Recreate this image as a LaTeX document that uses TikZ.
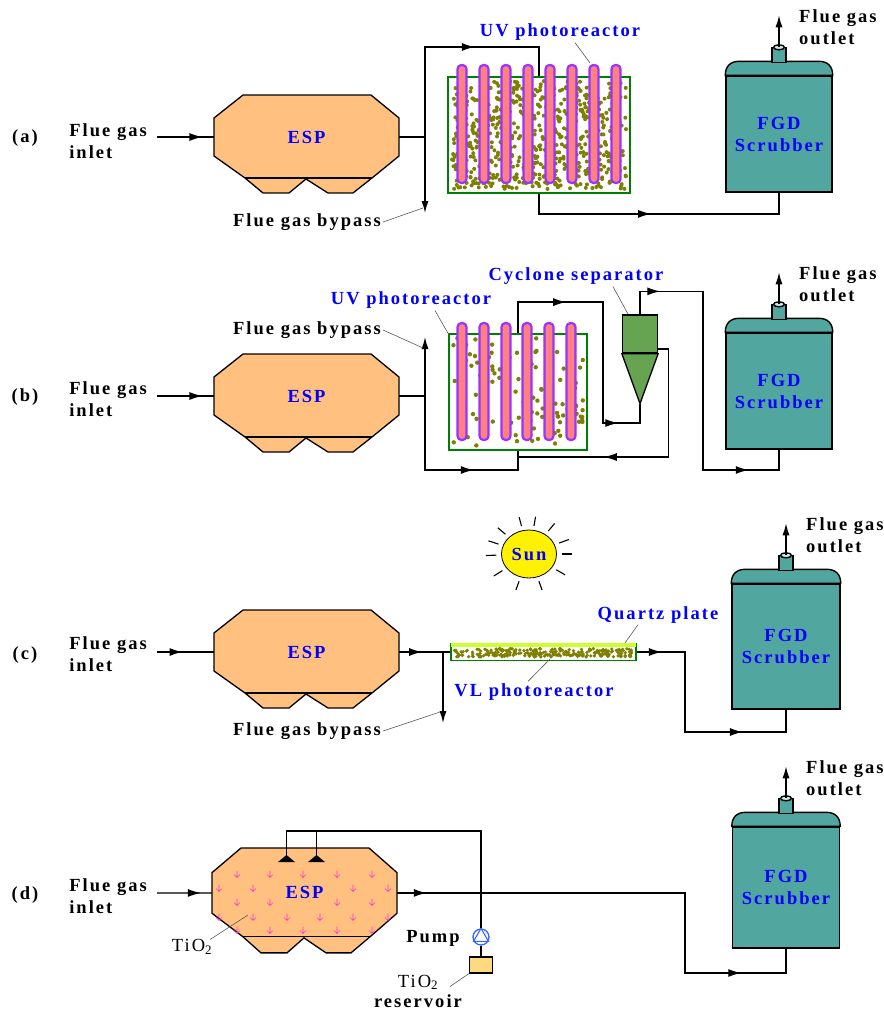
\documentclass[tikz,border=0pt]{standalone}
\usepackage{fontspec}
\setmainfont{Liberation Serif}
\newfontfamily\labelfont[LetterSpace=11]{Liberation Serif}
\usetikzlibrary{shapes.geometric, arrows.meta, positioning, calc, decorations.markings}

\definecolor{espfill}{RGB}{255,192,128}
\definecolor{scrfill}{RGB}{82,166,160}
\definecolor{scrtop}{RGB}{200,235,232}
\definecolor{cycfill}{RGB}{102,164,82}
\definecolor{tubeline}{RGB}{153,51,255}
\definecolor{tubefill}{RGB}{255,128,128}
\definecolor{bedline}{RGB}{0,128,0}
\definecolor{bedgrain}{RGB}{128,128,0}
\definecolor{quartz}{RGB}{204,255,51}
\definecolor{pumpblue}{RGB}{51,102,255}
\definecolor{resvfill}{RGB}{255,217,128}
\definecolor{spray}{RGB}{255,51,204}

% precipitator outline, #1 name, #2/#3 top left corner, #4 vertical scale
\newcommand{\esp}[4]{%
  \begin{scope}[shift={(#2,#3)}, yscale=#4]
    \filldraw[espbody] (29,0) -- (157,0) -- (185,23) -- (185,61) -- (158,83) -- (139,98)
      -- (114,98) -- (92,84) -- (75,98) -- (49,98) -- (31,83) -- (0,61) -- (0,23) -- cycle;
    \draw[espbody] (31,83) -- (158,83);
    \node[esptext] (#1) at (92.5,42) {ESP};
  \end{scope}}

% scrubber tower, #1 name, #2/#3 body centre, #4 width, #5 height
\newcommand{\scrubber}[5]{%
  \node[scrbody, minimum width=#4, minimum height=#5] (#1) at (#2,#3) {FGD\\Scrubber};
  \filldraw[scrshell] (#1.north west)
    .. controls ([yshift=9pt]#1.north west) and ([xshift=5pt,yshift=14pt]#1.north west) .. ([xshift=14pt,yshift=14pt]#1.north west)
    -- ([xshift=-14pt,yshift=14pt]#1.north east)
    .. controls ([xshift=-5pt,yshift=14pt]#1.north east) and ([yshift=9pt]#1.north east) .. (#1.north east) -- cycle;
  \filldraw[scrshell] ([xshift=-7pt,yshift=13pt]#1.north) rectangle ([xshift=7pt,yshift=28pt]#1.north);
  \filldraw[scrshell, fill=scrtop] ([yshift=28pt]#1.north) ellipse (5.5pt and 2.5pt);
  \coordinate (#1-out) at ([yshift=28pt]#1.north);
  \coordinate (#1-vent) at ([yshift=60pt]#1.north);
  \draw[outarrow] (#1-out) -- (#1-vent);
  \node[txt, anchor=west] at ([xshift=20pt,yshift=20pt]#1-out) {Flue gas\\outlet};}

\begin{document}
\begin{tikzpicture}[x=1pt, y=-1pt,
  txt/.style={font=\labelfont\bfseries\fontsize{18.5}{22}\selectfont, inner sep=0pt, align=left},
  plain/.style={font=\labelfont\fontsize{18.5}{22}\selectfont, inner sep=0pt},
  note/.style={txt, text=blue},
  pipe/.style={line width=1.3pt},
  lead/.style={line width=0.6pt, black!65},
  flow/.style={postaction={decorate}, decoration={markings,
      mark=at position #1 with {\arrow{Latex[length=13pt,width=8pt]}}}},
  flowtwo/.style 2 args={postaction={decorate}, decoration={markings,
      mark=at position #1 with {\arrow{Latex[length=13pt,width=8pt]}},
      mark=at position #2 with {\arrow{Latex[length=13pt,width=8pt]}}}},
  outarrow/.style={pipe, -{Latex[length=12pt,width=7pt]}},
  espbody/.style={draw=black, line width=1.3pt, fill=espfill},
  esptext/.style={txt, text=blue, minimum width=185pt},
  scrbody/.style={draw=black, line width=1.4pt, fill=scrfill, txt, align=center, text=blue},
  scrshell/.style={draw=black, line width=1.4pt, fill=scrfill},
  reactor/.style={draw=bedline, line width=1.8pt, fill=white, inner sep=0pt},
  tube/.style={draw=tubeline, line width=2.2pt, fill=tubefill, rounded corners=4pt},
  grain/.style={fill=bedgrain},
  cyclone/.style={draw=black, line width=1.3pt, fill=cycfill},
  ray/.style={line width=1.1pt},
  pumpc/.style={circle, draw=pumpblue, line width=1.3pt, fill=white, minimum size=16pt, inner sep=0pt},
  resv/.style={draw=black, line width=1.3pt, fill=resvfill, minimum width=23pt, minimum height=16pt, inner sep=0pt},
  sprayarrow/.style={draw=spray, line width=0.6pt}]

\useasboundingbox (0,0) rectangle (884,1010);
\pgfmathsetseed{41}

%% (a) UV photoreactor
\node[txt] at (25,138) {(a)};
\coordinate (inA) at (157,137);
\node[txt, left=10pt of inA, yshift=-4pt] {Flue gas\\inlet};
\esp{espA}{214}{95}{1}
\node[reactor, minimum width=182pt, minimum height=116pt] (reactA) at (539,135) {};
\foreach \i in {1,...,700}{
  \pgfmathsetmacro{\px}{452+174*rnd}
  \pgfmathsetmacro{\py}{81+108*rnd}
  \fill[grain] (\px,\py) circle (2pt);
}
\foreach \x in {462,484,506,528,550,572,594,616}
  \draw[tube] (\x-4.5,65) rectangle (\x+4.5,183);
\scrubber{scrA}{779}{134}{106pt}{116pt}
\coordinate (ja) at (425,137);
\coordinate (bypA) at (425,213);
\draw[pipe, flow=0.8] (inA) -- (espA.west);
\draw[pipe] (espA.east) -- (ja);
\draw[outarrow] (ja) -- (bypA);
\draw[pipe, flow=0.6] (ja) -- ++(0,-90) -| (reactA.north);
\draw[pipe, flow=0.47] (reactA.south) -- ++(0,20) -| (scrA.south);
\node[note] (uvA) at (560,32) {UV photoreactor};
\draw[lead] ([xshift=15pt,yshift=-2pt]uvA.south) -- (590,63);
\node[txt] (bypassA) at (307,222) {Flue gas bypass};
\draw[lead] ([xshift=2pt]bypassA.east) -- (423,208);

%% (b) UV photoreactor with cyclone
\node[txt] at (25,397) {(b)};
\coordinate (inB) at (157,396);
\node[txt, left=10pt of inB, yshift=-3pt] {Flue gas\\inlet};
\esp{espB}{214}{354}{1}
\node[reactor, minimum width=138pt, minimum height=116pt] (reactB) at (518,392) {};
\foreach \i in {1,...,120}{
  \pgfmathsetmacro{\px}{453+131*rnd}
  \pgfmathsetmacro{\py}{338+108*rnd}
  \fill[grain] (\px,\py) circle (2.2pt);
}
\foreach \x in {462,484,506,527,549,571}
  \draw[tube] (\x-4.5,323) rectangle (\x+4.5,440);
\node[cyclone, minimum width=35pt, minimum height=38pt, inner sep=0pt] (cycB) at (640,334) {};
\coordinate (cycTip) at ([yshift=-50pt]cycB.south);
\filldraw[cyclone] (cycB.south west) -- (cycB.south east) -- (cycTip) -- cycle;
\coordinate (cycSide) at ([yshift=-15pt]cycB.east);
\scrubber{scrB}{779}{391}{106pt}{116pt}
\coordinate (jb) at (425,396);
\coordinate (bypB) at (425,337);
\coordinate (bendB) at (603,423);
\coordinate (bendB2) at (703,470);
\draw[pipe, flow=0.8] (inB) -- (espB.west);
\draw[pipe] (espB.east) -- (jb);
\draw[outarrow] (jb) -- (bypB);
\draw[pipe, flow=0.66] (jb) -- ++(0,74) -| (reactB.south);
\draw[pipe, flowtwo={0.27}{0.86}] (reactB.north) -- ++(0,-31) -| (bendB) -| (cycTip);
\draw[pipe, flow=0.68] (cycSide) -- ++(10,0) -- ++(0,108) -- (reactB.south |- 0,457);
\draw[pipe, flowtwo={0.12}{0.86}] (cycB.north) -- ++(0,-23) -| (bendB2) -| (scrB.south);
\node[note] (uvB) at (411,300) {UV photoreactor};
\draw[lead] ([xshift=24pt,yshift=-2pt]uvB.south) -- (449,335);
\node[note] (cycLbl) at (576,276) {Cyclone separator};
\draw[lead] ([xshift=37pt,yshift=-2pt]cycLbl.south) -- (628,314);
\node[txt] (bypassB) at (307,330) {Flue gas bypass};
\draw[lead] ([xshift=2pt]bypassB.east) -- (423,348);

%% (c) visible light photoreactor
\node[txt] at (25,655) {(c)};
\coordinate (inC) at (157,652);
\node[txt, left=10pt of inC, yshift=-2pt] {Flue gas\\inlet};
\esp{espC}{214}{610}{1}
\node[ellipse, draw=black, line width=0.8pt, fill=yellow, minimum width=55pt, minimum height=48pt,
  inner sep=0pt, note] (sun) at (529,554) {Sun};
\foreach \a in {0,20,50,80,105,140,162,182,212,250,290,330}
  \draw[ray] ($(sun.center)!1.17!(sun.\a)$) -- ($(sun.center)!1.55!(sun.\a)$);
\node[reactor, line width=1.5pt, minimum width=185pt, minimum height=17pt] (plateC) at (543.5,652) {};
\draw[quartz, line width=3.5pt] ([xshift=1pt,yshift=-2pt]plateC.north west) -- ([xshift=-1pt,yshift=-2pt]plateC.north east);
\foreach \i in {1,...,260}{
  \pgfmathsetmacro{\px}{454+178*rnd}
  \pgfmathsetmacro{\py}{648.5+8.5*rnd}
  \fill[grain] (\px,\py) circle (1.8pt);
}
\scrubber{scrC}{786}{646.5}{108pt}{125pt}
\coordinate (jc) at (443,652);
\coordinate (bypC) at (443,723);
\coordinate (bendC) at (685,732);
\draw[pipe, flow=0.45] (inC) -- (espC.west);
\draw[pipe, flow=0.45] (espC.east) -- (plateC.west);
\draw[outarrow] (jc) -- (bypC);
\draw[pipe, flowtwo={0.1}{0.74}] (plateC.east) -| (bendC) -| (scrC.south);
\node[note] (quartzLbl) at (658,615) {Quartz plate};
\draw[lead] ([xshift=-20pt,yshift=-1pt]quartzLbl.south) -- (625,643);
\node[note] (vlLbl) at (534,692) {VL photoreactor};
\draw[lead] ([xshift=-6pt,yshift=2pt]vlLbl.north) -- (550,659);
\node[txt] (bypassC) at (307,731) {Flue gas bypass};
\draw[lead] ([xshift=2pt]bypassC.east) -- (440,712);

%% (d) TiO2 injection into the ESP
\node[txt] at (25,895) {(d)};
\coordinate (inD) at (157,893);
\node[txt, left=10pt of inD, yshift=-3pt] {Flue gas\\inlet};
\esp{espD}{212}{848}{1.07}
\foreach \p in {(237,874),(270,874),(303,874),(337,874),(372,874),
                (219,888),(253,888),(353,888),(388,888),
                (237,902),(270,902),(337,902),(372,902),
                (219,917),(253,917),(287,917),(320,917),(353,917),(388,917),
                (237,930),(270,930),(303,930),(337,930),(372,930)}
  \draw[sprayarrow] \p ++(0,-3.5) -- ++(0,7) ++(-3,-3) -- ++(3,3) -- ++(3,-3);
\coordinate (noz1) at (286.5,855);
\coordinate (noz2) at (316.5,855);
\fill (noz1) -- ++(8.5,7) -- ++(-17,0) -- cycle;
\fill (noz2) -- ++(8.5,7) -- ++(-17,0) -- cycle;
\node[pumpc] (pump) at (481,937) {};
\draw[pumpblue, line width=1.1pt] (pump.90) -- (pump.210) -- (pump.330) -- cycle;
\node[resv] (resv) at (481,965) {};
\scrubber{scrD}{786}{887.5}{107pt}{121pt}
\coordinate (topD) at (481,831);
\coordinate (bendD) at (685,973);
\draw[pipe, flow=0.8] (inD) -- (espD.west);
\draw[pipe, flowtwo={0.06}{0.86}] (espD.east) -| (bendD) -| (scrD.south);
\draw[pipe] (noz1) |- (topD) -- (pump.north);
\draw[pipe] (noz2) -- (noz2 |- topD);
\draw[pipe] (pump.south) -- (resv.north);
\node[plain] (tio) at (192,947) {TiO\textsubscript{2}};
\draw[lead] ([xshift=-2pt]tio.north east) -- (248,915);
\node[txt] at (433,938) {Pump};
\node[txt, align=center, font=\labelfont\bfseries\fontsize{18.5}{20}\selectfont] (resvLbl) at (418,991) {{\mdseries TiO\textsubscript{2}}\\reservoir};
\draw[lead] (resv.south west) -- ++(-19,13);

\end{tikzpicture}
\end{document}
